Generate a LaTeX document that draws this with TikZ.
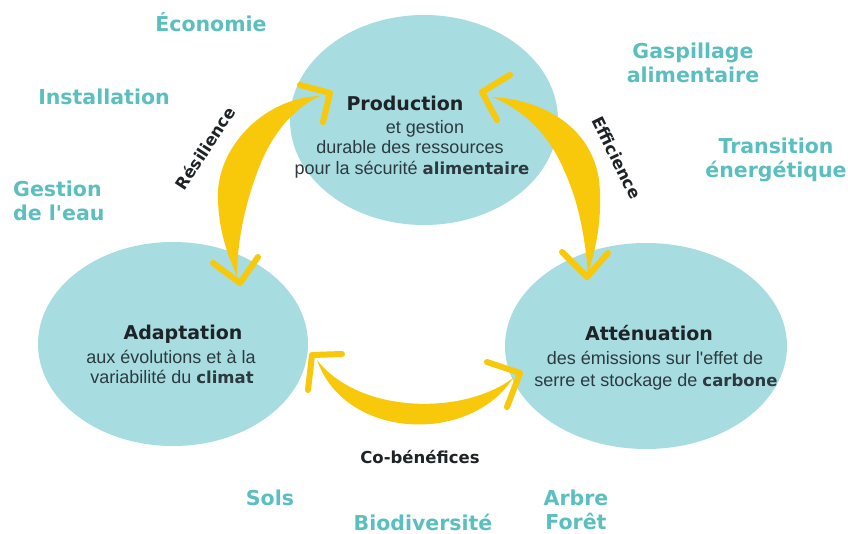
\documentclass[tikz,border=0pt]{standalone}
\usepackage{fontspec}
\setmainfont{Liberation Sans}[Ligatures=TeXOff]
\newfontfamily\heavy{DejaVu Sans}[Ligatures=TeXOff]
\usetikzlibrary{shapes.geometric}
\definecolor{bub}{HTML}{A7DCE0}
\definecolor{lbl}{HTML}{5CBFBF}
\definecolor{gold}{HTML}{F8C80A}
\definecolor{ink}{HTML}{1E2326}
\definecolor{bodyc}{HTML}{2C3A40}
\newcommand\boldword[1]{{\heavy\bfseries\fontsize{16.5}{21}\selectfont #1}}
\begin{document}
\begin{tikzpicture}[x=1pt,y=-1pt,
  bubble/.style={ellipse, fill=bub, draw=none, inner sep=0},
  periph/.style={text=lbl, font=\heavy\bfseries\fontsize{20.5}{24}\selectfont, inner sep=0, align=center},
  head/.style={text=ink, font=\heavy\bfseries\fontsize{19}{22}\selectfont, inner sep=0, anchor=base},
  bodytxt/.style={text=bodyc, font=\fontsize{18}{21}\selectfont, inner sep=0, anchor=base},
  chev/.style={draw=gold, line width=6pt, line cap=round, line join=round},
  cres/.style={fill=gold, draw=none},
  arrowlbl/.style={text=ink, font=\heavy\bfseries\fontsize{16.5}{20}\selectfont, inner sep=0}]
\fill[white] (0,0) rectangle (848,534);
\useasboundingbox (0,0) rectangle (848,534);

% bubbles
\node[bubble, minimum width=268pt, minimum height=210pt] (prod) at (424,120) {};
\node[bubble, minimum width=270pt, minimum height=204pt] (adapt) at (173,344) {};
\node[bubble, minimum width=282pt, minimum height=206pt] (atten) at (646,346) {};

% crescents
\coordinate (rA) at (320,96);
\coordinate (rB) at (237,276);
\fill[cres] (rA) .. controls (262,98) and (215,150) .. (218,200)
  .. controls (219,235) and (230,260) .. (rB)
  .. controls (237,245) and (244,205) .. (260,165)
  .. controls (274,130) and (297,106) .. (rA) -- cycle;
\coordinate (eA) at (492,97);
\coordinate (eB) at (588,273);
\fill[cres] (eA) .. controls (547,100) and (592,130) .. (599,180)
  .. controls (603,215) and (596,250) .. (eB)
  .. controls (585,240) and (580,205) .. (564,170)
  .. controls (548,132) and (520,108) .. (eA) -- cycle;
\coordinate (cA) at (317,360);
\coordinate (cB) at (513,378);
\fill[cres] (cA) .. controls (345,440) and (470,445) .. (cB)
  .. controls (465,415) and (360,415) .. (cA) -- cycle;

% chevrons
\draw[chev] (300,85) -- (330,93) -- (323,122);
\draw[chev] (213,263) -- (240,283) -- (258,257);
\draw[chev] (510,75) -- (482,92) -- (497,120);
\draw[chev] (562,252) -- (587,277) -- (608,253);
\draw[chev] (342,354) -- (312,355) -- (308,390);
\draw[chev] (487,362) -- (520,373) -- (507,407);

% production text
\node[head] (p1) at (405,111) {Production};
\node[bodytxt] (p2) at (425,134) {et gestion};
\node[bodytxt] (p3) at (410,154) {durable des ressources};
\node[bodytxt] (p4) at (412,175) {pour la sécurité \boldword{alimentaire}};

% adaptation text
\node[head] (a1) at (183,340) {Adaptation};
\node[bodytxt] (a2) at (171,363) {aux évolutions et à la};
\node[bodytxt] (a3) at (172,383) {variabilité du \boldword{climat}};

% attenuation text
\node[head] (t1) at (649,341) {Atténuation};
\node[bodytxt] (t2) at (655,364) {des émissions sur l'effet de};
\node[bodytxt] (t3) at (656,386) {serre et stockage de \boldword{carbone}};

% arrow labels
\node[arrowlbl, rotate=57] (res) at (205,148) {Résilience};
\node[arrowlbl, rotate=-64] (eff) at (617,158) {Efficience};
\node[arrowlbl] (cob) at (420,457) {Co-bénéfices};

% peripheral labels
\node[periph] (eco) at (211,22) {Économie};
\node[periph] (ins) at (104,97) {Installation};
\node[periph, align=left, anchor=west] (eau) at (13,201) {Gestion\\de l'eau};
\node[periph] (gas) at (693,63) {Gaspillage\\alimentaire};
\node[periph] (tra) at (776,160) {Transition\\énergétique};
\node[periph] (sol) at (270,498) {Sols};
\node[periph] (bio) at (423,522) {Biodiversité};
\node[periph] (arb) at (576,510) {Arbre\\Forêt};
\end{tikzpicture}
\end{document}
